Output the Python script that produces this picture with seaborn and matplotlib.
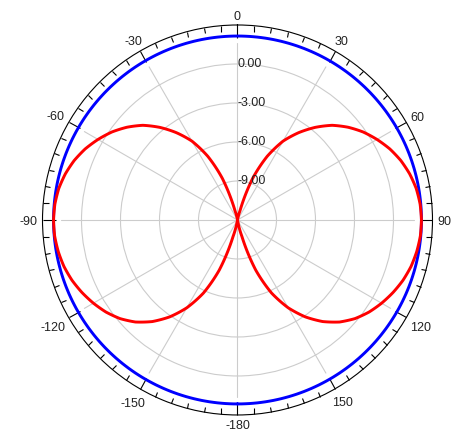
import numpy as np
import pandas as pd
import matplotlib
matplotlib.use("Agg")
import matplotlib.pyplot as plt
import seaborn as sns

# ---- data (dB vs azimuth in degrees) ----
angles_deg = [-180, -175, -170, -165, -160, -155, -150, -145, -140, -135, -130, -125,
              -120, -115, -110, -105, -100, -95, -90, -85, -80, -75, -70, -65,
              -60, -55, -50, -45, -40, -35, -30, -25, -20, -15, -10, -5,
              0, 5, 10, 15, 20, 25, 30, 35, 40, 45, 50, 55,
              60, 65, 70, 75, 80, 85, 90, 95, 100, 105, 110, 115,
              120, 125, 130, 135, 140, 145, 150, 155, 160, 165, 170, 175, 180]
blue_db = [2.15] * len(angles_deg)
red_db = [-12.0, -12.0, -12.0, -10.7, -7.9, -5.8, -4.2, -2.9, -1.8, -0.9, -0.2, 0.35,
          0.8, 1.2, 1.55, 1.82, 2.0, 2.12, 2.15, 2.10, 1.96, 1.71, 1.37, 0.93,
          0.39, -0.2, -0.9, -1.7, -2.7, -3.8, -5.0, -6.6, -8.6, -11.3, -12.0, -12.0,
          -12.0, -12.0, -12.0, -11.3, -8.6, -6.6, -5.0, -3.8, -2.7, -1.7, -0.9, -0.2,
          0.39, 0.93, 1.37, 1.71, 1.96, 2.10, 2.15, 2.12, 2.0, 1.82, 1.55, 1.2,
          0.8, 0.35, -0.2, -0.9, -1.8, -2.9, -4.2, -5.8, -7.9, -10.7, -12.0, -12.0, -12.0]
theta_tick_deg = [0, 30, 60, 90, 120, 150, 180, 210, 240, 270, 300, 330]
theta_tick_labels = ["0", "30", "60", "90", "120", "150", "-180", "-150", "-120", "-90", "-60", "-30"]
r_ticks = [-9, -6, -3, 0]
r_tick_labels = ["-9.00", "-6.00", "-3.00", "0.00"]
r_min, r_max = -12, 3

sns.set_style("white")
plt.rcParams['font.family'] = ['Liberation Sans', 'DejaVu Sans']

fig = plt.figure(figsize=(4.63, 4.42), dpi=100)
ax = fig.add_axes([0.0918, 0.0611, 0.8423, 0.8824], projection='polar')
ax.set_theta_zero_location('N')
ax.set_theta_direction(-1)
ax.set_ylim(r_min, r_max)

df = pd.DataFrame({"theta": np.radians(angles_deg), "blue": blue_db, "red": red_db})

# grid: circles
ax.set_yticks(r_ticks)
ax.set_yticklabels([])
ax.yaxis.grid(True, color='#cccccc', linewidth=0.8)
ax.xaxis.grid(False)
# spokes
for t in theta_tick_deg:
    ax.plot([np.radians(t), np.radians(t)], [r_min, 1.6], color='#cccccc', lw=0.8, zorder=1)

sns.lineplot(data=df, x="theta", y="blue", ax=ax, sort=False, color='#0000ff', lw=2.1, zorder=3)
sns.lineplot(data=df, x="theta", y="red", ax=ax, sort=False, color='#ff0000', lw=2.1, zorder=4)
for ln in ax.lines[-2:]:
    ln.get_path()._interpolation_steps = 20
ax.set_xlabel("")
ax.set_ylabel("")
ax.set_ylim(r_min, r_max)

for r, lab in zip(r_ticks, r_tick_labels):
    ax.text(0, r, lab, ha='left', va='center', fontsize=9, color='#222222', zorder=5)

ax.set_xticks(np.radians(theta_tick_deg))
ax.set_xticklabels([])
ax.set_xticks(np.radians(np.arange(0, 360, 5)), minor=True)
ax.tick_params(axis='x', which='both', top=True, bottom=False, labelbottom=False, labeltop=False)
ax.tick_params(axis='x', which='major', direction='in', length=9, width=0.8, color='black')
ax.tick_params(axis='x', which='minor', direction='in', length=4, width=0.8, color='black')
ax.spines['polar'].set_color('black')
ax.spines['polar'].set_linewidth(0.8)

# angle labels placed outside the rim
char_w = {'-': 4.2}
for t, lab in zip(theta_tick_deg, theta_tick_labels):
    a = np.radians(t)
    w = sum(char_w.get(c, 6.9) for c in lab)
    h = 9.0
    ext = abs(np.sin(a)) * w / 2 + abs(np.cos(a)) * h / 2 + 5.0
    dx = ext * np.sin(a)
    dy = ext * np.cos(a) - 2.0
    ax.annotate(lab, xy=(a, r_max), xycoords='data',
                xytext=(dx * 0.72, dy * 0.72), textcoords='offset points',
                ha='center', va='center', fontsize=9, color='#222222',
                annotation_clip=False)

fig.savefig("out.png", dpi=100)
